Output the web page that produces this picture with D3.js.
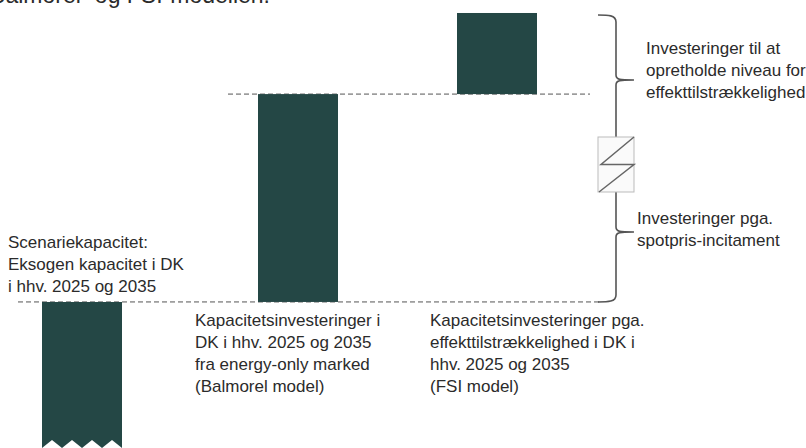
<!DOCTYPE html>
<html>
<head>
<meta charset="utf-8">
<script src="https://cdn.jsdelivr.net/npm/d3@7"></script>
<style>
  body { margin: 0; background: #fff; }
  svg { display: block; }
  text { font-family: "Liberation Sans", Arial, sans-serif; fill: #2b2b2b; }
</style>
</head>
<body>
<div id="chart"></div>
<script>
// capacity steps (arbitrary units)
const categories = ['scenarie', 'balmorel', 'fsi'];
const stepBase = [0, 3.26, 7.9];
const stepTop = [3.26, 7.9, 9.71];

const captions = [
    ['Scenariekapacitet:', 'Eksogen kapacitet i DK', 'i hhv. 2025 og 2035'],
    ['Kapacitetsinvesteringer i', 'DK i hhv. 2025 og 2035', 'fra energy-only marked', '(Balmorel model)'],
    ['Kapacitetsinvesteringer pga.', 'effekttilstrækkelighed i DK i', 'hhv. 2025 og 2035', '(FSI model)']
];
const braceLabels = [
    ['Investeringer til at', 'opretholde niveau for', 'effekttilstrækkelighed'],
    ['Investeringer pga.', 'spotpris-incitament']
];
const headerText = 'hhv. Balmorel- og FSI-modellen.';

const width = 806;
const height = 448;
const barColor = '#244745';

const svg = d3.select('#chart')
    .append('svg')
    .attr('width', width)
    .attr('height', height);

const x = d3.scaleOrdinal()
    .domain(categories)
    .range([82, 298, 497]);
const barWidth = 80;

const y = d3.scaleLinear()
    .domain([0, 10])
    .range([height, 0]);

// cut-off heading at the very top
svg.append('text')
    .attr('x', 270)
    .attr('y', 3)
    .attr('text-anchor', 'end')
    .style('font-size', '23px')
    .text(headerText);

// dashed reference lines
svg.append('line')
    .attr('x1', 18).attr('x2', 600)
    .attr('y1', y(stepTop[0])).attr('y2', y(stepTop[0]))
    .attr('stroke', '#555').attr('stroke-dasharray', '5,3');
svg.append('line')
    .attr('x1', 228).attr('x2', 590)
    .attr('y1', y(stepTop[1])).attr('y2', y(stepTop[1]))
    .attr('stroke', '#555').attr('stroke-dasharray', '5,3');

// first bar with torn (zigzag) bottom
const x0 = x(categories[0]) - barWidth / 2;
const teeth = 4;
const tw = barWidth / teeth;
let p = d3.path();
p.moveTo(x0, y(stepTop[0]));
p.lineTo(x0 + barWidth, y(stepTop[0]));
p.lineTo(x0 + barWidth, height);
for (let i = teeth - 1; i >= 0; i--) {
    p.lineTo(x0 + i * tw + tw / 2, height - 8);
    p.lineTo(x0 + i * tw, height);
}
p.closePath();
svg.append('path').attr('d', p.toString()).attr('fill', barColor);

// floating bars
svg.selectAll('rect.step')
    .data(categories.slice(1))
    .join('rect')
    .attr('class', 'step')
    .attr('x', d => x(d) - barWidth / 2)
    .attr('width', barWidth)
    .attr('y', d => y(stepTop[categories.indexOf(d)]))
    .attr('height', d => y(stepBase[categories.indexOf(d)]) - y(stepTop[categories.indexOf(d)]))
    .attr('fill', barColor);

// captions
const capPos = [[8, 248], [195, 326], [430, 326]];
captions.forEach((lines, i) => {
    const t = svg.append('text')
        .attr('x', capPos[i][0])
        .attr('y', capPos[i][1])
        .style('font-size', '17px');
    lines.forEach((l, j) => {
        t.append('tspan').attr('x', capPos[i][0]).attr('dy', j ? 22 : 0).text(l);
    });
});

// brace on the right with a break symbol
const bx = 616;
const tipX = 634;
const bTop = y(stepTop[2]) + 2;
const bBot = y(stepTop[0]);
const tip1 = 80;
const tip2 = 232;
const boxTop = 137, boxBot = 192, boxL = 598, boxR = 634;

function brace(path, yStart, yTip, yEnd, startCurve, endCurve) {
    if (startCurve) {
        path.moveTo(598, yStart);
        path.bezierCurveTo(608, yStart, bx, yStart, bx, yStart + 7);
    } else {
        path.moveTo(bx, yStart);
    }
    path.lineTo(bx, yTip - 5);
    path.bezierCurveTo(bx, yTip, bx + 4, yTip, tipX, yTip);
    path.moveTo(tipX, yTip);
    path.bezierCurveTo(bx + 4, yTip, bx, yTip, bx, yTip + 5);
    if (endCurve) {
        path.lineTo(bx, yEnd - 7);
        path.bezierCurveTo(bx, yEnd, 608, yEnd, 598, yEnd);
    } else {
        path.lineTo(bx, yEnd);
    }
}
const bp = d3.path();
brace(bp, bTop, tip1, boxTop, true, false);
brace(bp, boxBot, tip2, bBot, false, true);
svg.append('path')
    .attr('d', bp.toString())
    .attr('fill', 'none')
    .attr('stroke', '#555')
    .attr('stroke-width', 1.6);

svg.append('rect')
    .attr('x', boxL).attr('y', boxTop)
    .attr('width', boxR - boxL).attr('height', boxBot - boxTop)
    .attr('fill', '#fafafa')
    .attr('stroke', '#bbb');
const zp = d3.path();
zp.moveTo(boxR, boxTop);
zp.lineTo(boxL + 3, (boxTop + boxBot) / 2);
zp.lineTo(boxR, (boxTop + boxBot) / 2);
zp.lineTo(boxL + 1, boxBot);
svg.append('path')
    .attr('d', zp.toString())
    .attr('fill', 'none')
    .attr('stroke', '#666')
    .attr('stroke-width', 1.5);

// brace labels
const labPos = [[646, 54], [637, 224]];
braceLabels.forEach((lines, i) => {
    const t = svg.append('text')
        .attr('x', labPos[i][0])
        .attr('y', labPos[i][1])
        .style('font-size', '17px');
    lines.forEach((l, j) => {
        t.append('tspan').attr('x', labPos[i][0]).attr('dy', j ? 22 : 0).text(l);
    });
});
</script>
</body>
</html>
